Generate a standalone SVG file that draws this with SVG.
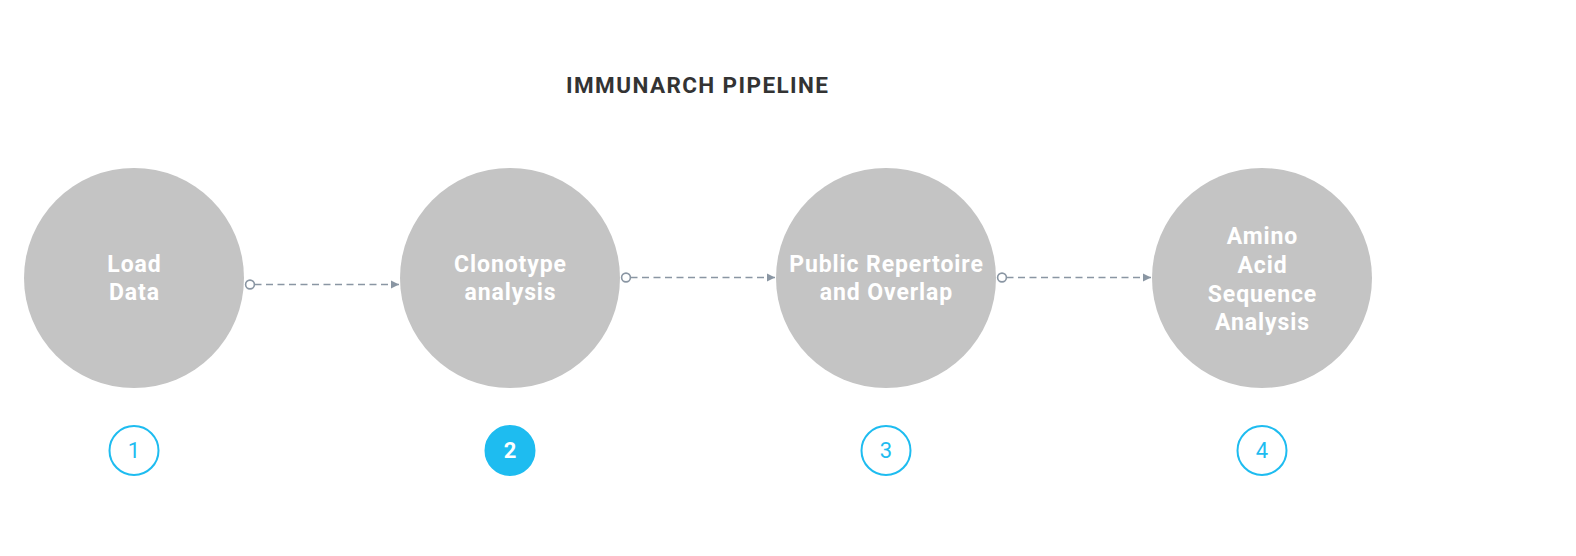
<svg xmlns="http://www.w3.org/2000/svg" width="1576" height="556" viewBox="0 0 1576 556">
  <style>
    .node { fill: #c4c4c4; }
    .label { font-family: Roboto, "Liberation Sans", sans-serif; font-weight: bold; font-size: 23px; letter-spacing: 0.9px; fill: #ffffff; text-anchor: middle; }
    .title { font-family: Roboto, "Liberation Sans", sans-serif; font-weight: bold; font-size: 22.5px; letter-spacing: 1.4px; fill: #333333; }
    .conn { stroke: #8a96a3; stroke-width: 1.6; stroke-dasharray: 7 4.5; fill: none; }
    .dot { fill: #ffffff; stroke: #8a96a3; stroke-width: 1.6; }
    .badge { fill: #ffffff; stroke: #1ebcf0; stroke-width: 2; }
    .badge-on { fill: #1ebcf0; stroke: #1ebcf0; stroke-width: 2; }
    .num { font-family: Roboto, "Liberation Sans", sans-serif; font-size: 22px; fill: #1ebcf0; text-anchor: middle; }
    .num-on { font-family: Roboto, "Liberation Sans", sans-serif; font-size: 22px; font-weight: bold; fill: #ffffff; text-anchor: middle; }
  </style>
  <defs>
    <marker id="arrow" markerWidth="10" markerHeight="10" refX="8" refY="5" orient="auto" markerUnits="userSpaceOnUse">
      <path d="M0,1 L8,5 L0,9 Z" fill="#8a96a3"/>
    </marker>
  </defs>
  <rect width="1576" height="556" fill="#ffffff"/>
  <text class="title" x="566" y="92.5">IMMUNARCH PIPELINE</text>

  <g id="node1">
    <circle class="node" cx="134" cy="278" r="110"/>
    <text class="label" x="134.5" y="272">Load</text>
    <text class="label" x="134.5" y="300">Data</text>
  </g>
  <g id="node2">
    <circle class="node" cx="510" cy="278" r="110"/>
    <text class="label" x="510.5" y="272">Clonotype</text>
    <text class="label" x="510.5" y="300">analysis</text>
  </g>
  <g id="node3">
    <circle class="node" cx="886" cy="278" r="110"/>
    <text class="label" x="886.5" y="272">Public Repertoire</text>
    <text class="label" x="886.5" y="300">and Overlap</text>
  </g>
  <g id="node4">
    <circle class="node" cx="1262" cy="278" r="110"/>
    <text class="label" x="1262.5" y="244">Amino</text>
    <text class="label" x="1262.5" y="273">Acid</text>
    <text class="label" x="1262.5" y="301.5">Sequence</text>
    <text class="label" x="1262.5" y="330">Analysis</text>
  </g>

  <g id="connectors">
    <line class="conn" x1="254.5" y1="284.5" x2="399" y2="284.5" marker-end="url(#arrow)"/>
    <circle class="dot" cx="250" cy="284.5" r="4.4"/>
    <line class="conn" x1="630.5" y1="277.5" x2="775" y2="277.5" marker-end="url(#arrow)"/>
    <circle class="dot" cx="626" cy="277.5" r="4.4"/>
    <line class="conn" x1="1006.5" y1="277.5" x2="1151" y2="277.5" marker-end="url(#arrow)"/>
    <circle class="dot" cx="1002" cy="277.5" r="4.4"/>
  </g>

  <g id="badge1">
    <circle class="badge" cx="134" cy="450.5" r="24.5"/>
    <text class="num" x="134" y="458">1</text>
  </g>
  <g id="badge2">
    <circle class="badge-on" cx="510" cy="450.5" r="24.5"/>
    <text class="num-on" x="510" y="458">2</text>
  </g>
  <g id="badge3">
    <circle class="badge" cx="886" cy="450.5" r="24.5"/>
    <text class="num" x="886" y="458">3</text>
  </g>
  <g id="badge4">
    <circle class="badge" cx="1262" cy="450.5" r="24.5"/>
    <text class="num" x="1262" y="458">4</text>
  </g>
</svg>
